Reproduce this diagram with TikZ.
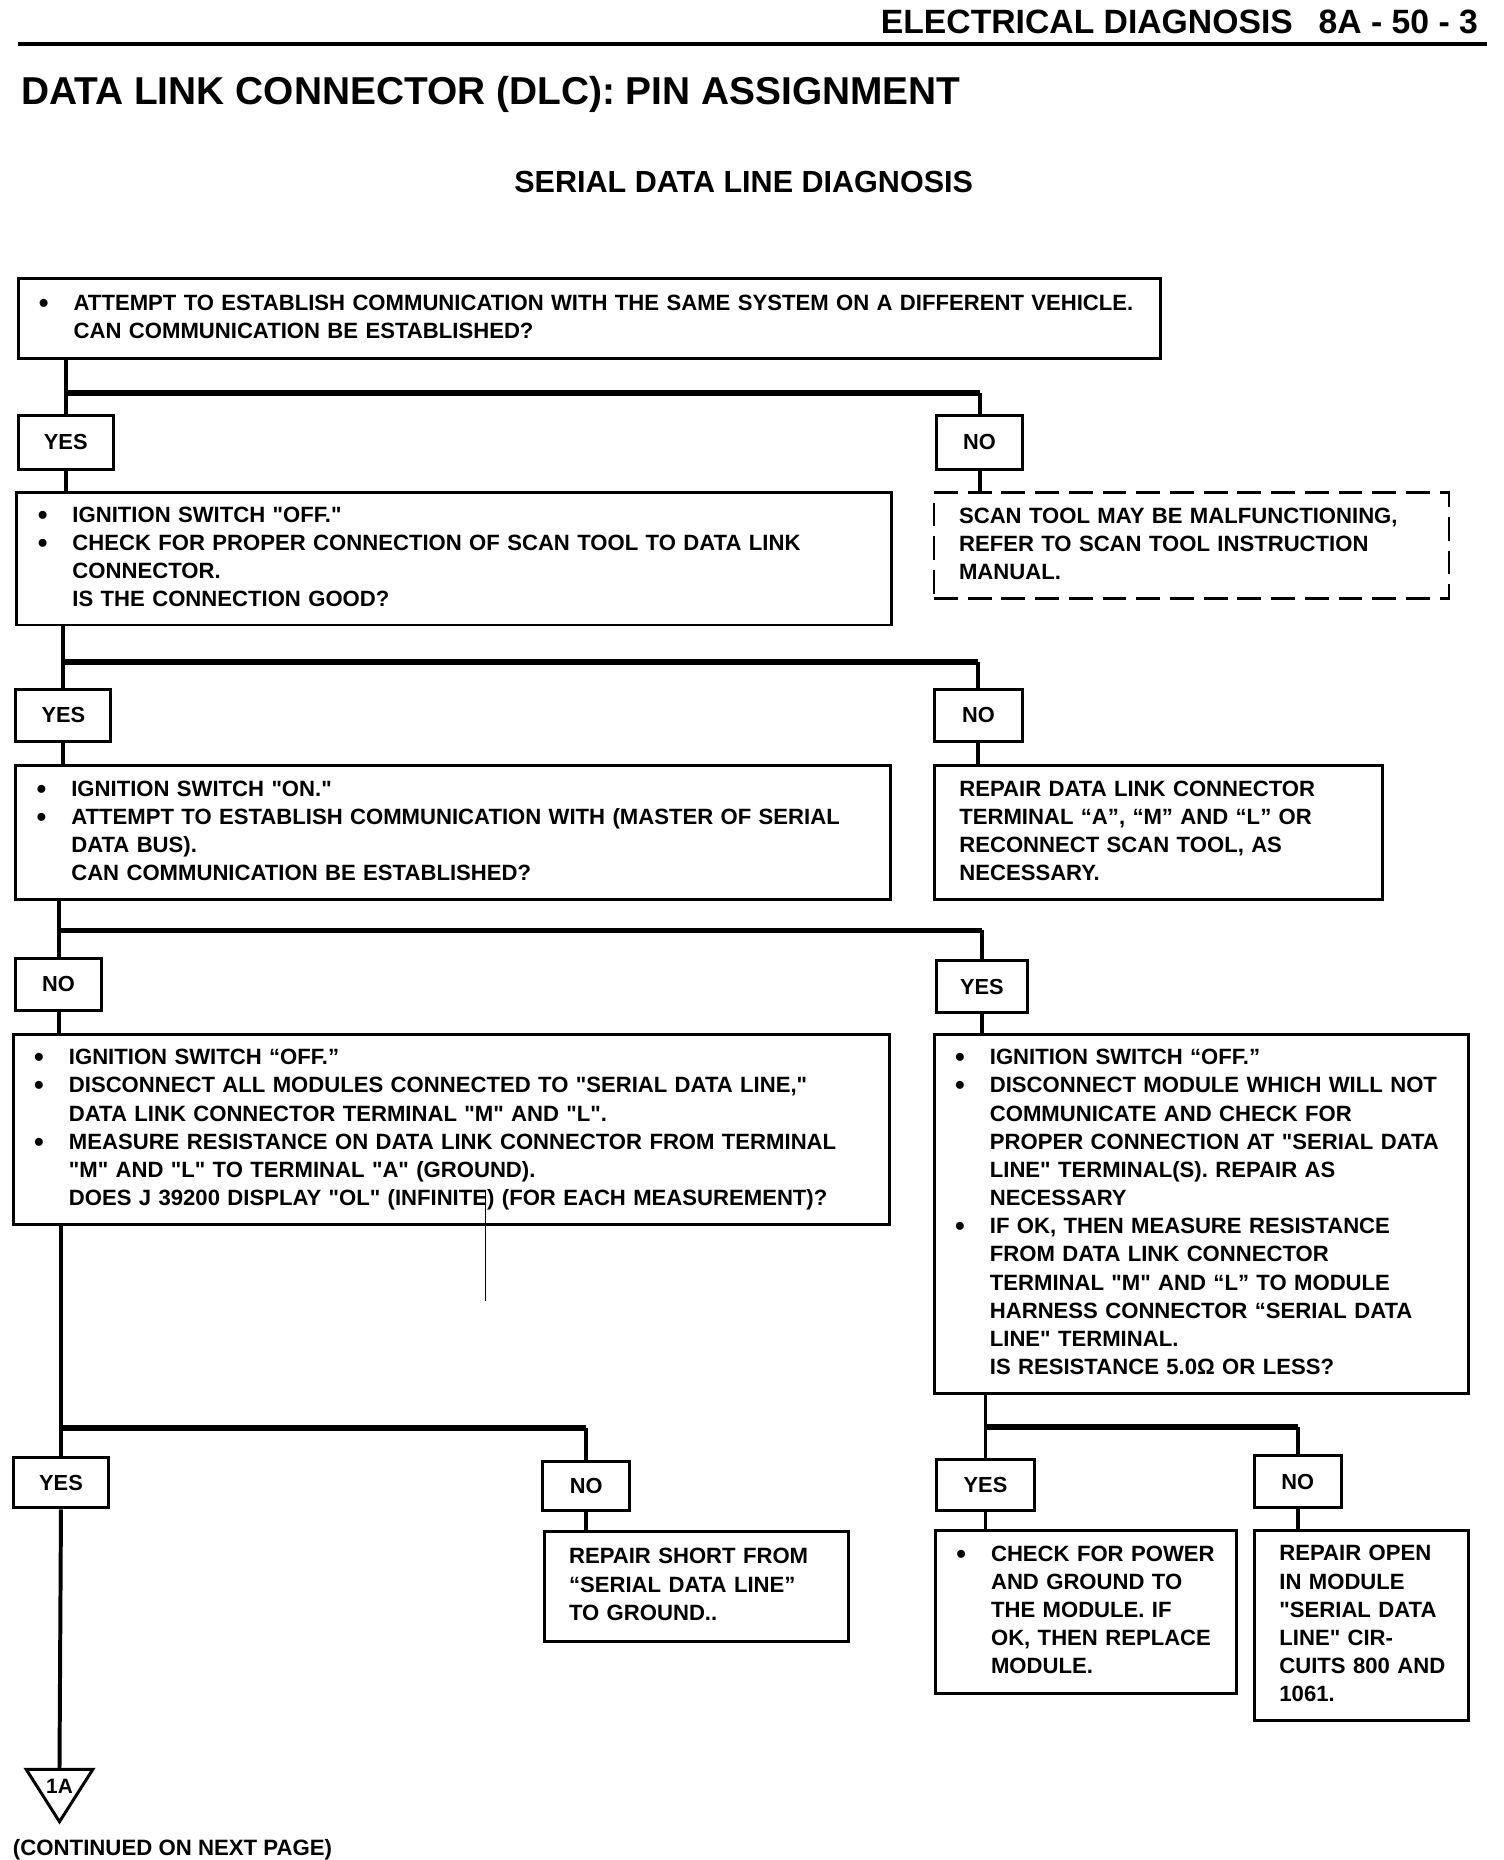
\documentclass[tikz,border=0pt]{standalone}
\usepackage{fontspec}
\setmainfont{Liberation Sans}[Ligatures=TeXOff]
\usetikzlibrary{shapes.geometric}

\tikzset{
  qbox/.style={draw, line width=1.5pt, anchor=north west, inner xsep=0pt, inner ysep=0pt,
    align=left, font=\fontsize{11.15}{14.2}\selectfont\bfseries},
  dbox/.style={qbox, line width=1.2pt, dash pattern=on 12pt off 5pt},
  ans/.style={draw, line width=1.5pt, anchor=north west, inner sep=0pt,
    font=\fontsize{11}{13}\selectfont\bfseries},
  conn/.style={line width=2pt},
  branch/.style={line width=3pt},
}
% bullet list with hand broken lines
\newcommand{\bul}{\raisebox{-1pt}{\fontsize{14}{14}\selectfont\textbullet}}
\newenvironment{steps}{\renewcommand{\arraystretch}{1}%
  \begin{tabular}{@{\hspace{10.5pt}}p{17.5pt}@{}l@{}}}{\end{tabular}}
\newenvironment{plain}{\renewcommand{\arraystretch}{1}%
  \begin{tabular}{@{\hspace{12.6pt}}l@{}}}{\end{tabular}}

\begin{document}
\begin{tikzpicture}[x=0.6pt,y=-0.6pt]
\useasboundingbox (0,0) rectangle (1264,1563.2);

\node[anchor=base east, font=\fontsize{17}{20}\selectfont\bfseries] (head) at (1248,28)
  {ELECTRICAL DIAGNOSIS\hspace{13pt}8A - 50 - 3};
\draw [line width=2pt] (15,37) -- (1250,37);
\node[anchor=base west, font=\fontsize{19.6}{24}\selectfont\bfseries] (title) at (12,88)
  {DATA LINK CONNECTOR (DLC): PIN ASSIGNMENT};
\node[anchor=base, font=\fontsize{15.4}{18}\selectfont\bfseries] (sub) at (625,162)
  {SERIAL DATA LINE DIAGNOSIS};

% branch levels
\coordinate (b1) at (0,330);
\coordinate (b2) at (0,556);
\coordinate (b3) at (0,782);
\coordinate (b4) at (0,1200);
\coordinate (b5) at (0,1199);

% boxes
\node[qbox, text width=576pt, minimum height=40.2pt] (q1) at (14,233) {\begin{steps}
\bul & ATTEMPT TO ESTABLISH COMMUNICATION WITH THE SAME SYSTEM ON A DIFFERENT VEHICLE.\\
 & CAN COMMUNICATION BE ESTABLISHED?
\end{steps}};

\node[ans, minimum width=48pt, minimum height=27pt] (yes1) at (14,348) {YES};
\node[ans, minimum width=43.2pt, minimum height=27pt] (no1) at (786,348) {NO};

\node[qbox, text width=441pt, minimum height=66.6pt] (q2) at (13,413) {\begin{steps}
\bul & IGNITION SWITCH "OFF."\\
\bul & CHECK FOR PROPER CONNECTION OF SCAN TOOL TO DATA LINK\\
 & CONNECTOR.\\
 & IS THE CONNECTION GOOD?
\end{steps}};
\node[dbox, text width=259.8pt, minimum height=53.4pt] (d1) at (784,413) {\begin{plain}
SCAN TOOL MAY BE MALFUNCTIONING,\\
REFER TO SCAN TOOL INSTRUCTION\\
MANUAL.
\end{plain}};

\node[ans, minimum width=48pt, minimum height=26.4pt] (yes2) at (12,578) {YES};
\node[ans, minimum width=44.4pt, minimum height=26.4pt] (no2) at (784,578) {NO};

\node[qbox, text width=441pt, minimum height=67.8pt] (q3) at (12,642) {\begin{steps}
\bul & IGNITION SWITCH "ON."\\
\bul & ATTEMPT TO ESTABLISH COMMUNICATION WITH (MASTER OF SERIAL\\
 & DATA BUS).\\
 & CAN COMMUNICATION BE ESTABLISHED?
\end{steps}};
\node[qbox, text width=226.2pt, minimum height=67.8pt] (r1) at (784,642) {\begin{plain}
REPAIR DATA LINK CONNECTOR\\
TERMINAL “A”, “M” AND “L” OR\\
RECONNECT SCAN TOOL, AS\\
NECESSARY.
\end{plain}};

\node[ans, minimum width=43.2pt, minimum height=26.4pt] (no3) at (12,804) {NO};
\node[ans, minimum width=45.6pt, minimum height=26.4pt] (yes3) at (786,806) {YES};

\node[qbox, text width=441.6pt, minimum height=96pt] (q4) at (10,868) {\begin{steps}
\bul & IGNITION SWITCH “OFF.”\\
\bul & DISCONNECT ALL MODULES CONNECTED TO "SERIAL DATA LINE,"\\
 & DATA LINK CONNECTOR TERMINAL "M" AND "L".\\
\bul & MEASURE RESISTANCE ON DATA LINK CONNECTOR FROM TERMINAL\\
 & "M" AND "L" TO TERMINAL "A" (GROUND).\\
 & DOES J 39200 DISPLAY "OL" (INFINITE) (FOR EACH MEASUREMENT)?
\end{steps}};
\node[qbox, text width=269.4pt, minimum height=181.2pt] (q5) at (784,868) {\begin{steps}
\bul & IGNITION SWITCH “OFF.”\\
\bul & DISCONNECT MODULE WHICH WILL NOT\\
 & COMMUNICATE AND CHECK FOR\\
 & PROPER CONNECTION AT "SERIAL DATA\\
 & LINE" TERMINAL(S). REPAIR AS\\
 & NECESSARY\\
\bul & IF OK, THEN MEASURE RESISTANCE\\
 & FROM DATA LINK CONNECTOR\\
 & TERMINAL "M" AND “L” TO MODULE\\
 & HARNESS CONNECTOR “SERIAL DATA\\
 & LINE" TERMINAL.\\
 & IS RESISTANCE 5.0Ω OR LESS?
\end{steps}};
\draw [line width=0.5pt] (408,1000) -- (408,1093);

\node[ans, minimum width=48pt, minimum height=25.2pt] (yes4) at (10,1224) {YES};
\node[ans, minimum width=43.8pt, minimum height=24.6pt] (no4) at (455,1227) {NO};
\node[ans, minimum width=49.2pt, minimum height=25.8pt] (yes5) at (786,1225) {YES};
\node[ans, minimum width=43.8pt, minimum height=26.4pt] (no5) at (1053,1222) {NO};

\node[qbox, text width=153.6pt, minimum height=55.2pt] (r2) at (456,1286) {\begin{plain}
REPAIR SHORT FROM\\
“SERIAL DATA LINE”\\
TO GROUND..
\end{plain}};
\node[qbox, text width=151.8pt, minimum height=82.2pt] (r3) at (785,1285) {\begin{steps}
\bul & CHECK FOR POWER\\
 & AND GROUND TO\\
 & THE MODULE. IF\\
 & OK, THEN REPLACE\\
 & MODULE.
\end{steps}};
\node[qbox, text width=108pt, minimum height=96pt] (r4) at (1053,1285) {\begin{plain}
REPAIR OPEN\\
IN MODULE\\
"SERIAL DATA\\
LINE" CIR-\\
CUITS 800 AND\\
1061.
\end{plain}};

% off-page connector
\coordinate (c1top) at (50,1487);
\draw [line width=1.5pt, line join=miter] (22,1487) -- (78,1487) -- (50,1531) -- cycle;
\node[font=\fontsize{10.5}{12}\selectfont\bfseries] (c1) at (50,1501) {1A};
\node[anchor=base west, font=\fontsize{11.2}{13}\selectfont\bfseries] (cont) at (5,1559)
  {(CONTINUED ON NEXT PAGE)};

% connectors
\draw [conn] (q1.south -| yes1.north) -- (yes1.north);
\draw [branch] (yes1.north |- b1) -- (no1.north |- b1);
\draw [conn] (no1.north |- b1) -- (no1.north);
\draw [conn] (yes1.south) -- (yes1.south |- q2.north);
\draw [conn] (no1.south) -- (no1.south |- d1.north);

\draw [conn] (q2.south -| yes2.north) -- (yes2.north);
\draw [branch] (yes2.north |- b2) -- (no2.north |- b2);
\draw [conn] (no2.north |- b2) -- (no2.north);
\draw [conn] (yes2.south) -- (yes2.south |- q3.north);
\draw [conn] (no2.south) -- (no2.south |- r1.north);

\draw [conn] (q3.south -| no3.north) -- (no3.north);
\draw [branch] (no3.north |- b3) -- (yes3.north |- b3);
\draw [conn] (yes3.north |- b3) -- (yes3.north);
\draw [conn] (no3.south) -- (no3.south |- q4.north);
\draw [conn] (yes3.south) -- (yes3.south |- q5.north);

\draw [conn] (q4.south -| yes4.north) -- (yes4.north);
\draw [branch] (yes4.north |- b4) -- (no4.north |- b4);
\draw [conn] (no4.north |- b4) -- (no4.north);
\draw [conn] (yes4.south) -- (c1top);
\draw [conn] (no4.south) -- (no4.south |- r2.north);

\draw [conn] (q5.south -| yes5.north) -- (yes5.north);
\draw [branch] (yes5.north |- b5) -- (no5.north |- b5);
\draw [conn] (no5.north |- b5) -- (no5.north);
\draw [conn] (yes5.south) -- (yes5.south |- r3.north);
\draw [conn] (no5.south) -- (no5.south |- r4.north);

\end{tikzpicture}
\end{document}
